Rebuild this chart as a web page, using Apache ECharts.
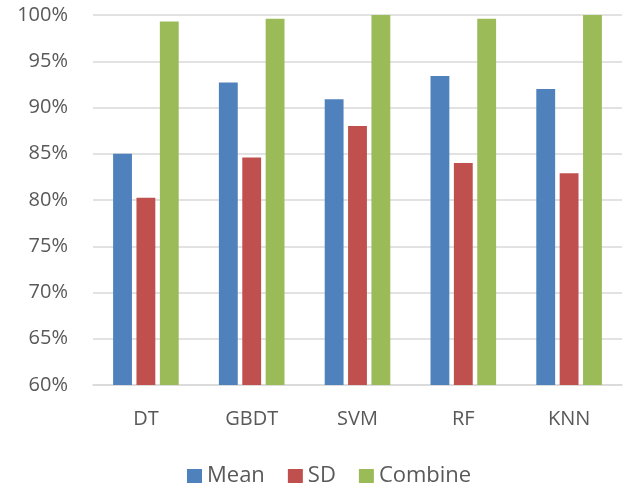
<!DOCTYPE html>
<html>
<head>
<meta charset="utf-8">
<script src="https://cdn.jsdelivr.net/npm/echarts@6/dist/echarts.min.js"></script>
<style>
html, body { margin: 0; padding: 0; background: #fff; }
#chart { width: 624px; height: 490px; }
</style>
</head>
<body>
<div id="chart"></div>
<script>
// Classifier accuracy by feature set
const categories = ['DT', 'GBDT', 'SVM', 'RF', 'KNN'];
const meanValues = [85.0, 92.7, 90.9, 93.4, 92.0];
const sdValues = [80.25, 84.6, 88.0, 84.0, 82.9];
const combineValues = [99.3, 99.6, 100.0, 99.6, 100.0];
const seriesNames = ['Mean', 'SD', 'Combine'];
const yTicks = { min: 60, max: 100, step: 5 };

const FONT = 'Open Sans';
const TEXT = '#595959';
const GRID = '#d9d9d9';
const colors = ['#4f81bd', '#c0504d', '#9bbb59'];

const chart = echarts.init(document.getElementById('chart'), null, { renderer: 'canvas' });

chart.setOption({
  animation: false,
  color: colors,
  textStyle: { fontFamily: FONT },
  grid: { left: 93, right: 2, top: 15, bottom: 105 },
  legend: {
    left: 187,
    top: 465,
    padding: 0,
    itemWidth: 15,
    itemHeight: 14,
    itemGap: 23,
    icon: 'rect',
    textStyle: { fontFamily: FONT, fontSize: 22, color: TEXT },
    data: seriesNames
  },
  xAxis: {
    type: 'category',
    data: categories,
    axisLine: { show: true, lineStyle: { color: GRID, width: 1.5 } },
    axisTick: { show: false },
    axisLabel: { fontFamily: FONT, fontSize: 20, color: TEXT, margin: 24 }
  },
  yAxis: {
    type: 'value',
    min: yTicks.min,
    max: yTicks.max,
    interval: yTicks.step,
    axisLine: { show: false },
    axisTick: { show: false },
    splitLine: { lineStyle: { color: GRID, width: 1.5 } },
    axisLabel: {
      fontFamily: FONT, fontSize: 20, color: TEXT, margin: 25,
      formatter: v => v + '%'
    }
  },
  series: [
    { name: seriesNames[0], type: 'bar', data: meanValues, barGap: '24%', barCategoryGap: '38%' },
    { name: seriesNames[1], type: 'bar', data: sdValues, barGap: '24%', barCategoryGap: '38%' },
    { name: seriesNames[2], type: 'bar', data: combineValues, barGap: '24%', barCategoryGap: '38%' }
  ]
});
</script>
</body>
</html>
